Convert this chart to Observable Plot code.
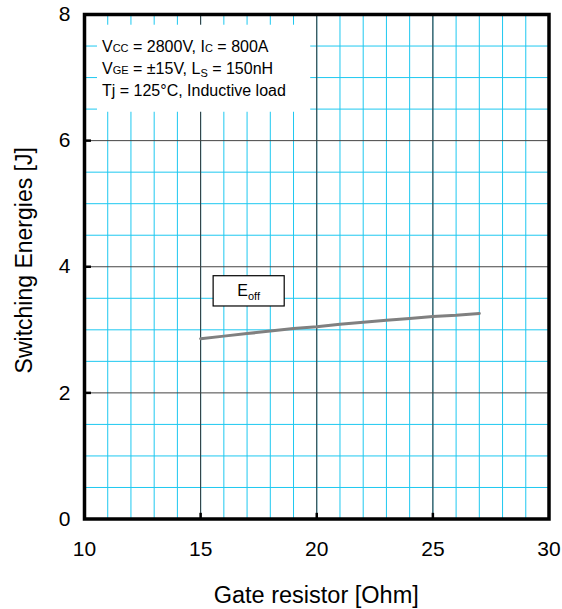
<!DOCTYPE html>
<html>
<head>
<meta charset="utf-8">
<script src="https://cdn.jsdelivr.net/npm/d3@7"></script>
<script src="https://cdn.jsdelivr.net/npm/@observablehq/plot@0.6"></script>
<style>
  html, body { margin: 0; padding: 0; background: #fff; }
  svg { display: block; }
</style>
</head>
<body>
<div id="chart"></div>
<script>
// Data
const gateResistor = [15, 16, 17, 18, 19, 20, 21, 22, 23, 24, 25, 26, 27];
const eoffValues   = [2.86, 2.90, 2.94, 2.98, 3.02, 3.05, 3.09, 3.12, 3.15, 3.18, 3.21, 3.23, 3.26];
const xTicks = [10, 15, 20, 25, 30];
const yTicks = [0, 2, 4, 6, 8];
const xMinor = d3.range(11, 30, 1);
const yMinor = d3.range(0.5, 8, 0.5);
const xMajor = [15, 20, 25];
const yMajor = [2, 4, 6];
const xLabel = "Gate resistor [Ohm]";
const yLabel = "Switching Energies [J]";
const seriesName = "E";
const seriesSub = "off";
const noteLines = [
  [["V", ""], ["CC", "small"], [" = 2800V, I", ""], ["C", "small"], [" = 800A", ""]],
  [["V", ""], ["GE", "small"], [" = \u00B115V, L", ""], ["S", "sub"], [" = 150nH", ""]],
  [["Tj = 125\u00B0C, Inductive load", ""]]
];

const rows = gateResistor.map((x, i) => ({x, y: eoffValues[i]}));
const FONT = "'Liberation Sans', Arial, sans-serif";
const CYAN = "#1ec8f0";

const plot = Plot.plot({
  width: 562,
  height: 609,
  marginLeft: 84,
  marginRight: 13.5,
  marginTop: 14,
  marginBottom: 90.5,
  style: {fontFamily: FONT, background: "#fff", color: "#000"},
  x: {domain: [10, 30]},
  y: {domain: [0, 8]},
  marks: [
    Plot.ruleX(xMinor, {stroke: CYAN, strokeWidth: 1}),
    Plot.ruleY(yMinor.filter(v => !yMajor.includes(v)), {stroke: CYAN, strokeWidth: 1}),
    Plot.ruleX(xMajor, {stroke: "#333", strokeWidth: 1}),
    Plot.ruleY(yMajor, {stroke: "#444", strokeWidth: 1}),
    Plot.ruleX(xMajor, {y1: 0, y2: 0.09, stroke: "#000", strokeWidth: 2.5}),
    Plot.ruleY(yMajor, {x1: 10, x2: 10.3, stroke: "#000", strokeWidth: 2.5}),
    Plot.line(rows, {x: "x", y: "y", stroke: "#808080", strokeWidth: 3}),
    Plot.frame({stroke: "#000", strokeWidth: 3.5}),
    Plot.axisX({ticks: xTicks, tickSize: 0, tickPadding: 22, fontSize: 21, label: null}),
    Plot.axisY({ticks: yTicks, tickSize: 0, tickPadding: 14, fontSize: 21, label: null})
  ]
});

document.getElementById("chart").appendChild(plot);

// Annotations positioned through the plot's own scales
const sx = plot.scale("x"), sy = plot.scale("y");
const X = v => sx.apply(v), Y = v => sy.apply(v);
const svg = d3.select(plot);
const g = svg.append("g").attr("font-family", FONT).attr("text-anchor", "start");

// axis titles
g.append("text")
  .attr("x", (X(10) + X(30)) / 2).attr("y", Y(0) + 84)
  .attr("text-anchor", "middle").attr("font-size", 23.5).attr("fill", "#000")
  .text(xLabel);
g.append("text")
  .attr("transform", `translate(32, ${(Y(0) + Y(8)) / 2 - 6}) rotate(-90)`)
  .attr("text-anchor", "middle").attr("font-size", 23).attr("fill", "#000")
  .text(yLabel);

// conditions note box
const noteBox = {x1: 10.56, x2: 19.74, y1: 7.83, y2: 6.45};
g.append("rect")
  .attr("x", X(noteBox.x1)).attr("y", Y(noteBox.y1))
  .attr("width", X(noteBox.x2) - X(noteBox.x1))
  .attr("height", Y(noteBox.y2) - Y(noteBox.y1))
  .attr("fill", "#fff");
noteLines.forEach((parts, i) => {
  const t = g.append("text")
    .attr("x", X(noteBox.x1) + 5)
    .attr("y", Y(noteBox.y1) + 27 + i * 22)
    .attr("text-anchor", "start")
    .attr("font-size", 16).attr("fill", "#000");
  let prevSub = false;
  parts.forEach(([s, kind]) => {
    const ts = t.append("tspan").text(s);
    if (kind === "small") ts.attr("font-size", 11);
    if (kind === "sub") ts.attr("font-size", 11).attr("dy", 3);
    else if (prevSub) ts.attr("dy", -3);
    prevSub = kind === "sub";
  });
});

// series label box
const labelBox = {x1: 15.56, x2: 18.62, y1: 3.85, y2: 3.37};
g.append("rect")
  .attr("x", X(labelBox.x1)).attr("y", Y(labelBox.y1))
  .attr("width", X(labelBox.x2) - X(labelBox.x1))
  .attr("height", Y(labelBox.y2) - Y(labelBox.y1))
  .attr("fill", "#fff").attr("stroke", "#000").attr("stroke-width", 1.2);
const lt = g.append("text")
  .attr("x", (X(labelBox.x1) + X(labelBox.x2)) / 2)
  .attr("y", (Y(labelBox.y1) + Y(labelBox.y2)) / 2 + 5)
  .attr("text-anchor", "middle").attr("font-size", 16).attr("fill", "#000");
lt.append("tspan").text(seriesName);
lt.append("tspan").text(seriesSub).attr("font-size", 11).attr("dy", 4);
</script>
</body>
</html>
